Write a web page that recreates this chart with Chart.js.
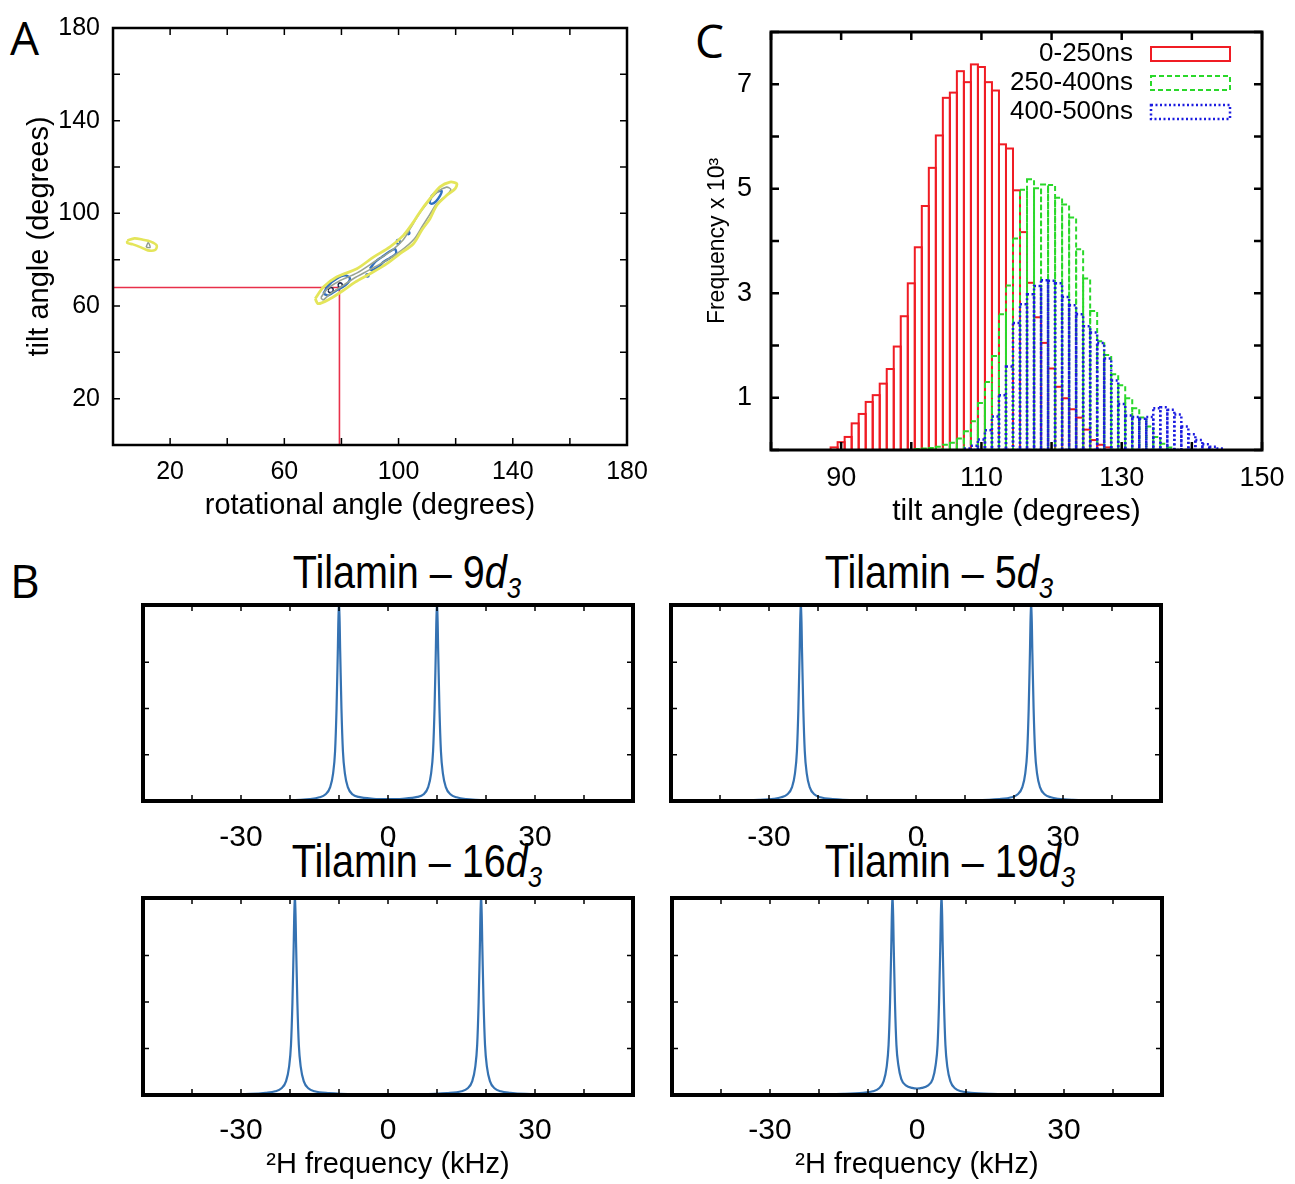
<!DOCTYPE html>
<html>
<head>
<meta charset="utf-8">
<script src="https://cdn.jsdelivr.net/npm/chart.js@4.4.1/dist/chart.umd.min.js"></script>
<style>
body { margin: 0; background: #fff; }
#page { position: relative; width: 1295px; height: 1184px; overflow: hidden; font-family: 'Liberation Sans', Arial, sans-serif; }
canvas { position: absolute; }
.letter { position: absolute; font-family: 'Open Sans', sans-serif; font-size: 46px; line-height: 46px; }
.spec-title { position: absolute; width: 400px; text-align: center; font-size: 46px; line-height: 46px; transform: scaleX(0.86); white-space: nowrap; }
.spec-title sub { font-size: 30px; font-style: italic; vertical-align: -10px; line-height: 0; }
</style>
</head>
<body>
<div id="page">
  <div class="letter" style="left:10px;top:14px">A</div>
  <div class="letter" style="left:10px;top:557px">B</div>
  <div class="letter" style="left:695px;top:17px">C</div>

  <canvas id="chartA" width="660" height="540" style="left:0;top:0"></canvas>
  <canvas id="chartC" width="605" height="540" style="left:690px;top:0"></canvas>

  <div class="spec-title" style="left:207px;top:549px">Tilamin – 9<i>d</i><sub>3</sub></div>
  <div class="spec-title" style="left:739px;top:549px">Tilamin – 5<i>d</i><sub>3</sub></div>
  <div class="spec-title" style="left:217px;top:838px">Tilamin – 16<i>d</i><sub>3</sub></div>
  <div class="spec-title" style="left:750px;top:838px">Tilamin – 19<i>d</i><sub>3</sub></div>

  <canvas id="spec9" width="560" height="250" style="left:100px;top:600px"></canvas>
  <canvas id="spec5" width="560" height="250" style="left:628px;top:600px"></canvas>
  <canvas id="spec16" width="560" height="291" style="left:100px;top:893px"></canvas>
  <canvas id="spec19" width="560" height="291" style="left:629px;top:893px"></canvas>
</div>

<script>
Chart.defaults.font.family = "'Liberation Sans', Arial, sans-serif";
Chart.defaults.color = '#000';

// ---- panel A: contour lines, [rotational angle, tilt angle]
const rotLabelsShown = [20, 60, 100, 140, 180];
const yellowOuter = [[70.8,63.1],[73.7,68.2],[78.3,72.5],[85.4,76.1],[91.2,81.1],[97.0,85.5],[101.7,90.5],[105.2,96.2],[107.5,100.6],[111.0,106.3],[114.5,111.4],[118.0,113.5],[120.4,112.8],[119.8,110.6],[116.9,107.8],[113.4,103.5],[111.0,97.7],[108.1,92.7],[105.2,86.9],[100.5,82.6],[95.9,78.3],[90.0,73.9],[84.8,70.3],[80.7,66.8],[76.0,63.1],[71.9,61.0],[70.8,63.1]];
const grayInner = [[72.8,63.6],[75.0,67.4],[79.0,70.6],[85.5,74.3],[91.4,79.0],[97.2,83.6],[101.5,88.4],[104.3,93.8],[106.6,98.6],[110.0,104.4],[113.6,109.2],[116.8,111.3],[118.3,110.3],[116.6,107.6],[113.4,104.2],[110.8,99.2],[108.2,94.2],[105.4,88.8],[101.0,84.0],[95.6,79.6],[89.8,75.6],[84.4,72.0],[80.0,68.4],[75.8,65.0],[73.6,62.6],[72.8,63.6]];
const blueTop = [[110.8,104.6],[111.6,107.5],[113.4,109.2],[115.1,109.6],[114.5,107.5],[113.1,105.2],[111.6,104.1],[110.8,104.6]];
const blueMid = [[90.0,76.1],[91.8,79.0],[94.1,81.1],[97.0,83.6],[98.8,84.5],[99.1,82.6],[97.0,80.7],[94.7,79.0],[92.9,76.8],[90.6,75.4],[90.0,76.1]];
const blueLow = [[73.7,65.3],[75.4,68.9],[78.3,71.8],[81.3,73.2],[83.0,71.8],[81.3,68.9],[78.3,66.8],[75.4,64.6],[73.7,65.3]];
const blueSmall = [[99.2,87.0],[99.4,88.4],[100.2,88.6],[100.5,87.6],[100.0,86.8],[99.2,87.0]];
const darkLoopA = [[75.3,66.8],[75.8,67.8],[76.8,67.8],[77.1,66.8],[76.6,65.9],[75.7,65.9],[75.3,66.8]];
const darkLoopB = [[78.8,68.9],[79.1,69.8],[80.0,69.8],[80.3,68.9],[79.9,68.1],[79.1,68.1],[78.8,68.9]];
const blueDots = [[103.4,91.5],[89.1,73.2]];
const yellowIsland = [[5.0,88.2],[7.5,89.2],[10.5,88.6],[13.2,87.8],[15.3,86.2],[14.8,84.2],[12.2,84.0],[10.0,85.2],[7.0,86.6],[5.0,87.2],[5.0,88.2]];
const grayIsland = [[11.6,85.3],[12.3,87.4],[13.0,85.3],[11.6,85.3]];
const redGuide = [[0,68],[79.3,68],[79.3,0]];

// ---- panel C: tilt angle histograms (frequency x 10^3), 1 degree bins
const tiltBins = [88,89,90,91,92,93,94,95,96,97,98,99,100,101,102,103,104,105,106,107,108,109,110,111,112,113,114,115,116,117,118,119,120,121,122,123,124,125,126,127,128,129,130,131,132,133,134,135,136,137,138,139,140,141,142,143,144,145];
const red0to250 = [0,0.05,0.15,0.25,0.51,0.69,0.92,1.05,1.27,1.55,1.98,2.56,3.19,3.88,4.67,5.40,6.02,6.74,6.84,7.25,7.04,7.38,7.33,7.04,6.88,5.85,5.77,4.97,4.17,3.20,2.54,2.05,1.56,1.21,0.99,0.78,0.62,0.39,0.19,0.10,0.05,0,0,0,0,0,0,0,0,0,0,0,0,0,0,0,0,0];
const green250to400 = [0,0,0,0,0,0,0,0,0,0,0,0,0,0.02,0.03,0.04,0.06,0.10,0.14,0.22,0.36,0.55,0.90,1.30,1.80,2.60,3.15,4.05,4.98,5.18,5.01,5.08,5.07,4.83,4.70,4.45,3.84,3.28,2.66,2.08,1.82,1.45,1.24,0.99,0.80,0.62,0.45,0.25,0.12,0.05,0,0,0,0,0,0,0,0];
const blue400to500 = [0,0,0,0,0,0,0,0,0,0,0,0,0,0,0,0,0,0,0,0,0.03,0.08,0.20,0.38,0.64,1.05,1.60,2.43,2.79,2.98,3.14,3.25,3.24,3.19,2.93,2.77,2.60,2.37,2.25,2.05,1.75,1.33,0.88,0.66,0.63,0.60,0.63,0.80,0.82,0.77,0.68,0.45,0.30,0.19,0.11,0.06,0.03,0];
const tiltLabelsShown = [90, 110, 130, 150];
const freqLabelsShown = [1, 3, 5, 7];

// ---- panel B: 2H spectra, [frequency kHz, intensity]
const freqLabelsB = [-30, 0, 30];
const spec9d3 = [[-50,0],[-30,0.001],[-20,0.003],[-16,0.01],[-14,0.02],[-12.8,0.035],[-11.8,0.075],[-11.2,0.15],[-10.8,0.27],[-10.5,0.5],[-10.25,0.8],[-10,1.1],[-9.75,0.8],[-9.5,0.5],[-9.2,0.27],[-8.8,0.15],[-8.2,0.075],[-7.2,0.035],[-6,0.022],[-3,0.012],[0,0.01],[3,0.012],[6,0.022],[7.2,0.035],[8.2,0.075],[8.8,0.15],[9.2,0.27],[9.5,0.5],[9.75,0.8],[10,1.1],[10.25,0.8],[10.5,0.5],[10.8,0.27],[11.2,0.15],[11.8,0.075],[12.8,0.035],[14,0.02],[16,0.01],[20,0.003],[30,0.001],[50,0]];
const spec5d3 = [[-50,0],[-40,0.002],[-32,0.006],[-29,0.012],[-27.5,0.02],[-26.3,0.035],[-25.3,0.075],[-24.7,0.15],[-24.3,0.27],[-24,0.5],[-23.75,0.8],[-23.5,1.1],[-23.25,0.8],[-23,0.5],[-22.7,0.27],[-22.3,0.15],[-21.7,0.075],[-20.7,0.035],[-19.5,0.02],[-17,0.01],[-12,0.004],[0,0.002],[12,0.004],[17,0.01],[19.5,0.02],[20.7,0.035],[21.7,0.075],[22.3,0.15],[22.7,0.27],[23,0.5],[23.25,0.8],[23.5,1.1],[23.75,0.8],[24,0.5],[24.3,0.27],[24.7,0.15],[25.3,0.075],[26.3,0.035],[27.5,0.02],[29,0.012],[32,0.006],[40,0.002],[50,0]];
const spec16d3 = [[-50,0],[-36,0.002],[-28,0.006],[-25,0.012],[-23,0.02],[-21.8,0.035],[-20.8,0.075],[-20.2,0.15],[-19.8,0.27],[-19.5,0.5],[-19.25,0.8],[-19,1.1],[-18.75,0.8],[-18.5,0.5],[-18.2,0.27],[-17.8,0.15],[-17.2,0.075],[-16.2,0.035],[-15,0.02],[-12,0.01],[-6,0.004],[0,0.003],[6,0.004],[12,0.01],[15,0.02],[16.2,0.035],[17.2,0.075],[17.8,0.15],[18.2,0.27],[18.5,0.5],[18.75,0.8],[19,1.1],[19.25,0.8],[19.5,0.5],[19.8,0.27],[20.2,0.15],[20.8,0.075],[21.8,0.035],[23,0.02],[25,0.012],[28,0.006],[36,0.002],[50,0]];
const spec19d3 = [[-50,0],[-25,0.002],[-15,0.006],[-11,0.012],[-9,0.02],[-7.8,0.035],[-6.8,0.075],[-6.2,0.15],[-5.8,0.27],[-5.5,0.5],[-5.25,0.8],[-5,1.1],[-4.75,0.8],[-4.5,0.5],[-4.2,0.27],[-3.8,0.16],[-3.2,0.085],[-2.2,0.05],[-1,0.038],[0,0.035],[1,0.038],[2.2,0.05],[3.2,0.085],[3.8,0.16],[4.2,0.27],[4.5,0.5],[4.75,0.8],[5,1.1],[5.25,0.8],[5.5,0.5],[5.8,0.27],[6.2,0.15],[6.8,0.075],[7.8,0.035],[9,0.02],[11,0.012],[15,0.006],[25,0.002],[50,0]];

const toXY = pts => pts.map(p => ({x: p[0], y: p[1]}));

// inward tick marks on all four sides plus the frame
const frameTicks = {
    id: 'frameTicks',
    afterDatasetsDraw(chart, args, o) {
        const { ctx, chartArea: a, scales: { x, y } } = chart;
        ctx.save();
        ctx.strokeStyle = '#000';
        ctx.setLineDash([]);
        ctx.lineWidth = o.tickWidth;
        ctx.beginPath();
        x.ticks.forEach(t => {
            const px = x.getPixelForValue(t.value);
            ctx.moveTo(px, a.bottom); ctx.lineTo(px, a.bottom - o.len);
            ctx.moveTo(px, a.top); ctx.lineTo(px, a.top + o.len);
        });
        y.ticks.forEach(t => {
            const py = y.getPixelForValue(t.value);
            ctx.moveTo(a.left, py); ctx.lineTo(a.left + o.len, py);
            ctx.moveTo(a.right, py); ctx.lineTo(a.right - o.len, py);
        });
        ctx.stroke();
        ctx.lineWidth = o.frame;
        ctx.strokeRect(a.left, a.top, a.width, a.height);
        ctx.restore();
    }
};

// ---------- panel A
function trace(pts, color, width) {
    return { data: toXY(pts), showLine: true, borderColor: color, borderWidth: width, pointRadius: 0, tension: 0.3, fill: false };
}

new Chart(document.getElementById('chartA'), {
    type: 'scatter',
    data: {
        datasets: [
            trace(yellowOuter, '#e4e55a', 2.8),
            trace(yellowIsland, '#e4e55a', 2.6),
            trace(grayInner, '#98a393', 1.6),
            trace(grayIsland, '#8f9a8c', 1.4),
            trace(blueTop, '#2f6fc0', 2.4),
            trace(blueMid, '#2f6fc0', 2.4),
            trace(blueLow, '#2f6fc0', 2.4),
            trace(blueSmall, '#2f6fc0', 1.8),
            trace(darkLoopA, '#1c2850', 1.6),
            trace(darkLoopB, '#1c2850', 1.6),
            { data: toXY(blueDots), showLine: false, pointRadius: 2.4, pointBackgroundColor: '#2f6fc0', pointBorderWidth: 0 },
            { data: toXY(redGuide), showLine: true, borderColor: '#e8304a', borderWidth: 1.6, pointRadius: 0, tension: 0 }
        ]
    },
    options: {
        responsive: false,
        animation: false,
        layout: { padding: { top: 28, right: 33, left: 0, bottom: 0 } },
        plugins: { legend: { display: false }, tooltip: { enabled: false }, frameTicks: { len: 7, frame: 2.5, tickWidth: 1.5 } },
        scales: {
            x: {
                type: 'linear', min: 0, max: 180,
                grid: { display: false }, border: { display: false },
                ticks: { stepSize: 20, autoSkip: false, maxRotation: 0, padding: 4, font: { size: 25 },
                    callback: v => rotLabelsShown.includes(v) ? String(v) : '' },
                title: { display: true, text: 'rotational angle (degrees)', font: { size: 29 }, padding: { top: 0, bottom: 17 } },
                afterFit: s => { s.height = 95; }
            },
            y: {
                type: 'linear', min: 0, max: 180,
                grid: { display: false }, border: { display: false },
                ticks: { stepSize: 20, autoSkip: false, padding: 5, font: { size: 25 },
                    callback: v => rotLabelsShown.includes(v) ? String(v) : '' },
                title: { display: true, text: 'tilt angle (degrees)', font: { size: 29 }, padding: { top: 23, bottom: 0 } },
                afterFit: s => { s.width = 113; }
            }
        }
    },
    plugins: [frameTicks]
});

// ---------- panel C
const outlineBars = {
    id: 'outlineBars',
    afterDatasetsDraw(chart) {
        const { ctx, chartArea: a } = chart;
        ctx.save();
        ctx.beginPath();
        ctx.rect(a.left, a.top, a.width, a.height);
        ctx.clip();
        chart.data.datasets.forEach((ds, i) => {
            const meta = chart.getDatasetMeta(i);
            ctx.strokeStyle = ds.outlineColor;
            ctx.lineWidth = ds.outlineWidth;
            ctx.setLineDash(ds.outlineDash);
            meta.data.forEach((bar, j) => {
                if (!ds.data[j].y) return;
                const { x, y, base, width } = bar.getProps(['x', 'y', 'base', 'width'], true);
                ctx.strokeRect(x - width / 2, y, width, base - y);
            });
        });
        ctx.restore();
    }
};

const histLegend = {
    id: 'histLegend',
    afterDraw(chart) {
        const { ctx, chartArea: a } = chart;
        ctx.save();
        ctx.font = "26px 'Liberation Sans', Arial, sans-serif";
        ctx.textAlign = 'right';
        ctx.textBaseline = 'middle';
        ctx.fillStyle = '#000';
        chart.data.datasets.forEach((ds, i) => {
            const cy = a.top + 22 + i * 29;
            ctx.fillText(ds.label, a.right - 129, cy);
            ctx.strokeStyle = ds.outlineColor;
            ctx.lineWidth = ds.outlineWidth;
            ctx.setLineDash(ds.outlineDash);
            ctx.strokeRect(a.right - 111, cy - 7, 79, 14);
        });
        ctx.restore();
    }
};

function histSet(label, values, color, dash, width) {
    return {
        label: label,
        data: tiltBins.map((t, i) => ({ x: t, y: values[i] })),
        backgroundColor: 'rgba(0,0,0,0)',
        borderWidth: 0,
        grouped: false,
        barPercentage: 1,
        categoryPercentage: 1,
        outlineColor: color,
        outlineDash: dash,
        outlineWidth: width
    };
}

new Chart(document.getElementById('chartC'), {
    type: 'bar',
    data: {
        datasets: [
            histSet('0-250ns', red0to250, '#f01c24', [], 2),
            histSet('250-400ns', green250to400, '#2ad82a', [5, 3], 2),
            histSet('400-500ns', blue400to500, '#1b1be0', [2, 2.5], 2.5)
        ]
    },
    options: {
        responsive: false,
        animation: false,
        layout: { padding: { top: 32, right: 33, left: 0, bottom: 0 } },
        plugins: { legend: { display: false }, tooltip: { enabled: false }, frameTicks: { len: 8, frame: 3, tickWidth: 2.5 } },
        scales: {
            x: {
                type: 'linear', min: 80, max: 150, offset: false,
                grid: { display: false }, border: { display: false },
                ticks: { stepSize: 10, autoSkip: false, maxRotation: 0, padding: 4, font: { size: 27 },
                    callback: v => tiltLabelsShown.includes(v) ? String(v) : '' },
                title: { display: true, text: 'tilt angle (degrees)', font: { size: 30 }, padding: { top: 0, bottom: 10 } },
                afterFit: s => { s.height = 90; }
            },
            y: {
                type: 'linear', min: 0, max: 8,
                grid: { display: false }, border: { display: false },
                ticks: { stepSize: 1, autoSkip: false, padding: 11, font: { size: 27 },
                    callback: v => freqLabelsShown.includes(v) ? String(v) : '' },
                title: { display: true, text: 'Frequency x 10³', font: { size: 23 }, padding: { top: 14, bottom: 0 } },
                afterFit: s => { s.width = 81; }
            }
        }
    },
    plugins: [outlineBars, frameTicks, histLegend]
});

// ---------- panel B
function spectrum(id, pts, showTitle) {
    new Chart(document.getElementById(id), {
        type: 'line',
        data: {
            datasets: [{
                data: toXY(pts),
                borderColor: '#3572b2',
                borderWidth: 2.2,
                pointRadius: 0,
                cubicInterpolationMode: 'monotone',
                fill: false
            }]
        },
        options: {
            responsive: false,
            animation: false,
            layout: { padding: { top: 5, right: 27, left: 0, bottom: 0 } },
            plugins: { legend: { display: false }, tooltip: { enabled: false }, frameTicks: { len: 6, frame: 4, tickWidth: 1.5 } },
            scales: {
                x: {
                    type: 'linear', min: -50, max: 50,
                    grid: { display: false }, border: { display: false },
                    ticks: { stepSize: 10, autoSkip: false, maxRotation: 0, padding: showTitle ? 10 : 11, font: { size: 30 },
                        callback: v => freqLabelsB.includes(Math.round(v)) ? String(Math.round(v)) : '' },
                    title: { display: showTitle, text: '²H frequency (kHz)', font: { size: 29 }, padding: { top: 0, bottom: 2 } },
                    afterFit: s => { s.height = showTitle ? 89 : 49; }
                },
                y: {
                    type: 'linear', min: 0, max: 1.06,
                    grid: { display: false }, border: { display: false },
                    ticks: { stepSize: 0.25, display: false },
                    afterFit: s => { s.width = 43; }
                }
            }
        },
        plugins: [frameTicks]
    });
}

spectrum('spec9', spec9d3, false);
spectrum('spec5', spec5d3, false);
spectrum('spec16', spec16d3, true);
spectrum('spec19', spec19d3, true);
</script>
</body>
</html>
